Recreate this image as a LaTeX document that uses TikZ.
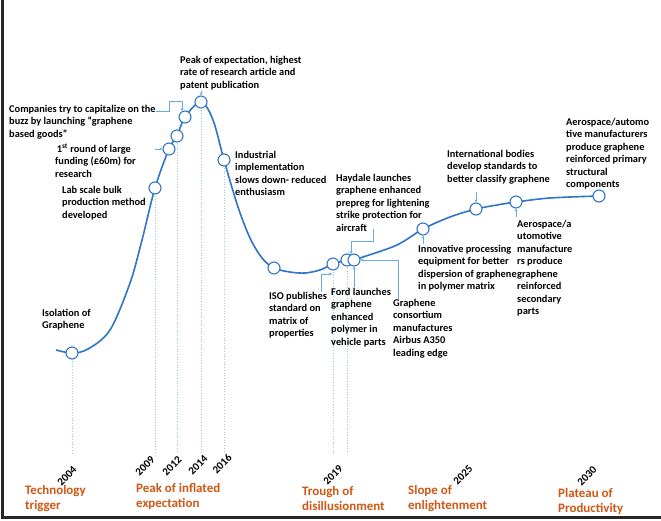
\documentclass[tikz,border=0pt]{standalone}
\usepackage{fontspec}
\setmainfont{Carlito}
\usetikzlibrary{arrows.meta}
\definecolor{curveblue}{RGB}{46,117,200}
\definecolor{leadblue}{RGB}{105,170,228}
\definecolor{dropblue}{RGB}{150,200,238}
\definecolor{phaseorange}{RGB}{207,86,20}
\tikzset{
  ring/.style={circle,draw=curveblue,fill=white,line width=1.1pt,minimum size=12bp,inner sep=0pt},
  evt/.style={anchor=north west,align=left,inner sep=0pt,font=\fontsize{10.4}{12.5}\selectfont\bfseries},
  yr/.style={anchor=east,rotate=45,inner sep=0pt,font=\fontsize{11}{12}\selectfont\bfseries},
  phase/.style={anchor=north west,align=left,inner sep=0pt,text=phaseorange,font=\fontsize{13}{15}\selectfont\bfseries},
  lead/.style={draw=leadblue,line width=.6pt,-{Stealth[length=3pt,width=3pt]}},
  drop/.style={draw=dropblue,line width=.7pt,dotted}
}
\begin{document}
\begin{tikzpicture}[x=1bp,y=-1bp]
  \useasboundingbox (0,0) rectangle (661,521);
  % frame
  \draw[line width=3bp,black!85] (2.5,0) -- (2.5,517) -- (661,517);
  % hype curve
  \draw[curveblue,line width=1.6bp] plot[smooth,tension=.55] coordinates {
    (56,350) (72,353) (88,349) (110,330) (130,283) (142,240) (155,188)
    (169,149) (177,136) (185,117) (201,102) (213,120) (224,160)
    (238,207) (250,238) (262,258) (274,268) (290,272) (305,273) (320,270)
    (333,264) (347,260) (354,260) (363,257) (397,245) (423,229) (450,217)
    (476,209) (497,205) (516,202) (550,198) (599,196)};
  \coordinate (iso0) at (72,353);
  \coordinate (lab0) at (155,188);
  \coordinate (fund0) at (169,149);
  \coordinate (y12) at (177,136);
  \coordinate (buzz0) at (185,117);
  \coordinate (peak0) at (201,102);
  \coordinate (ind0) at (224,160);
  \coordinate (low0) at (274,268);
  \coordinate (std0) at (333,264);
  \coordinate (hay0) at (347,260);
  \coordinate (ford0) at (354,260);
  \coordinate (inno0) at (423,229);
  \coordinate (intl0) at (476,209);
  \coordinate (sec0) at (516,202);
  \coordinate (prim0) at (599,196);
  % drop lines to the years
  \foreach \c in {iso0,lab0,y12,peak0,ind0,std0,hay0}
    \draw[drop] (\c) -- (\c |- 0,453);
  % milestones
  \foreach \c in {iso0,lab0,fund0,y12,buzz0,peak0,ind0,low0,std0,hay0,ford0,inno0,intl0,sec0,prim0}
    \node[ring] (\c c) at (\c) {};
  % events
  \node[evt] (isoT) at (42,309) {Isolation of\\Graphene};
  \node[evt] (labT) at (62,186) {Lab scale bulk\\production method\\developed};
  \node[evt] (fundT) at (55,144) {\,1\textsuperscript{st} round of large\\funding (£60m) for\\research};
  \node[evt] (buzzT) at (9,105) {Companies try to capitalize on the\\buzz by launching “graphene\\based goods”};
  \node[evt] (peakT) at (180,56) {Peak of expectation, highest\\rate of research article and\\patent publication};
  \node[evt] (indT) at (235,151) {Industrial\\implementation\\slows down- reduced\\enthusiasm};
  \node[evt] (hayT) at (336,174) {Haydale launches\\graphene enhanced\\prepreg for lightening\\strike protection for\\aircraft};
  \node[evt] (stdT) at (269,292) {ISO publishes\\standard on\\matrix of\\properties};
  \node[evt] (fordT) at (331,288) {Ford launches\\graphene\\enhanced\\polymer in\\vehicle parts};
  \node[evt] (consT) at (393,299) {Graphene\\consortium\\manufactures\\Airbus A350\\leading edge};
  \node[evt] (innoT) at (418,245) {Innovative processing\\equipment for better\\dispersion of graphene\\in polymer matrix};
  \node[evt] (intlT) at (447,150) {International bodies\\develop standards to\\better classify graphene};
  \node[evt] (secT) at (517,220) {Aerospace/a\\utomotive\\manufacture\\rs produce\\graphene\\reinforced\\secondary\\parts};
  \node[evt] (primT) at (566,118) {Aerospace/automo\\tive manufacturers\\produce graphene\\reinforced primary\\structural\\components};
  % leaders
  \draw[lead] (peak0c |- 0,91) -- (peak0c);
  \draw[lead] ([yshift=-6bp]buzzT.north east) -| (169,101) -| (182,111);
  \draw[lead] ([xshift=-7bp]fund0c.west) -- (fund0c.west);
  \draw[lead] (373,229) |- (351,241) -- (351,254);
  \draw[lead] (321,292) |- (332,274);
  \draw[lead] (ford0c |- 0,287) -- (ford0c);
  \draw[lead] (398,300) |- (ford0c.east);
  \draw[lead] (inno0c |- 0,244) -- (inno0c);
  \draw[lead] (intl0c |- 0,192) -- (intl0c);
  \draw[lead] (sec0c |- 0,217) -- (sec0c);
  % years
  \node[yr] (y2004) at (75,468) {2004};
  \node[yr] (y2009) at (153,458) {2009};
  \node[yr] (y2012) at (180,458) {2012};
  \node[yr] (y2014) at (206,457) {2014};
  \node[yr] (y2016) at (230,456) {2016};
  \node[yr] (y2019) at (341,467) {2019};
  \node[yr] (y2025) at (471,467) {2025};
  \node[yr] (y2030) at (595,468) {2030};
  % phases
  \node[phase] (ph1) at (25,485) {Technology\\trigger};
  \node[phase] (ph2) at (136,483) {Peak of inflated\\expectation};
  \node[phase] (ph3) at (302,486) {Trough of\\disillusionment};
  \node[phase] (ph4) at (408,485) {Slope of\\enlightenment};
  \node[phase] (ph5) at (558,488) {Plateau of\\Productivity};
\end{tikzpicture}
\end{document}
